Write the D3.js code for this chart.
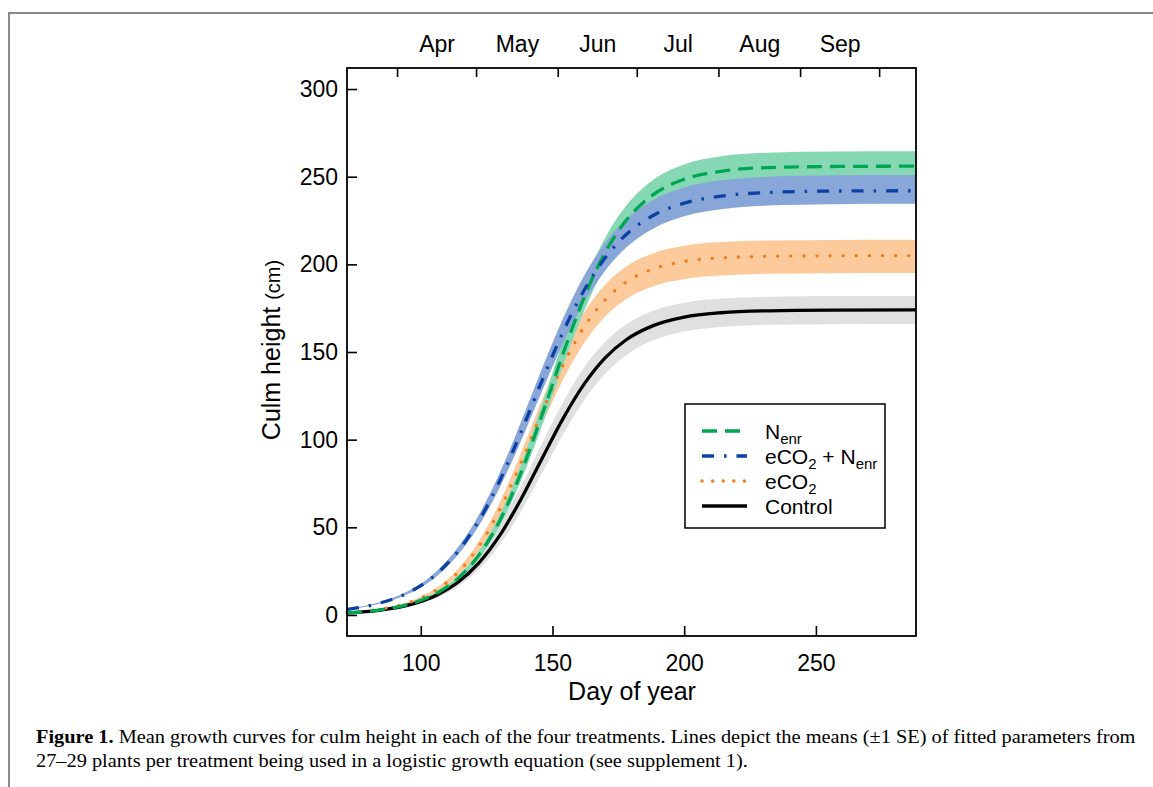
<!DOCTYPE html>
<html lang="en">
<head>
<meta charset="UTF-8">
<title>Culm height growth curves</title>
<script src="https://cdn.jsdelivr.net/npm/d3@7"></script>
<style>
  body { margin: 0; background: #fff; }
  svg text { font-family: "Liberation Sans", Arial, sans-serif; fill: #000; }
</style>
</head>
<body>
<svg width="1153" height="787"></svg>
<script>
var days = [72, 84, 96, 106, 114, 122, 130, 138, 146, 154, 162, 170, 178, 188, 200, 214, 232, 256, 288];

// Control (mean, -1 SE, +1 SE)
var control   = [1.18, 2.65, 5.88, 11.3, 18.5, 29.6, 45.4, 65.9, 89.1, 112.0, 131.7, 146.7, 157.0, 164.9, 169.9, 172.4, 173.5, 173.9, 174.0];
var controlLo = [1.02, 2.29, 5.09, 9.75, 16.1, 25.9, 40.2, 58.9, 80.8, 102.9, 122.5, 137.6, 148.2, 156.5, 161.7, 164.3, 165.5, 165.9, 166.0];
var controlHi = [1.37, 3.07, 6.79, 12.9, 21.2, 33.7, 51.2, 73.3, 97.8, 121.4, 141.1, 155.8, 165.8, 173.4, 178.1, 180.5, 181.5, 181.9, 182.0];

// eCO2
var eco2   = [1.37, 3.19, 7.33, 14.4, 24.1, 39.0, 60.1, 86.6, 115.6, 142.5, 164.2, 179.7, 189.9, 197.3, 201.6, 203.7, 204.6, 204.9, 205.0];
var eco2Lo = [1.26, 2.93, 6.73, 13.3, 22.2, 36.0, 55.7, 80.7, 108.3, 134.1, 155.1, 170.2, 180.2, 187.4, 191.7, 193.7, 194.6, 194.9, 195.0];
var eco2Hi = [1.48, 3.45, 7.91, 15.5, 26.0, 41.9, 64.3, 92.3, 122.5, 150.4, 172.6, 188.4, 198.8, 206.2, 210.6, 212.7, 213.6, 213.9, 214.0];

// Nenr
var nenr   = [1.24, 2.82, 6.35, 12.4, 20.7, 34.0, 53.8, 80.9, 113.9, 149.0, 181.1, 206.8, 225.1, 239.5, 248.5, 253.1, 255.2, 255.8, 256.0];
var nenrLo = [1.16, 2.63, 5.93, 11.6, 19.4, 31.9, 50.6, 76.4, 108.0, 142.0, 173.3, 198.6, 216.7, 231.0, 240.0, 244.6, 246.7, 247.3, 247.5];
var nenrHi = [1.33, 3.01, 6.78, 13.2, 22.1, 36.2, 57.1, 85.6, 119.9, 156.2, 189.0, 215.1, 233.5, 248.0, 257.0, 261.6, 263.7, 264.3, 264.5];

// eCO2 + Nenr
var both   = [3.22, 6.59, 13.3, 23.4, 36.0, 53.6, 76.6, 104.1, 133.5, 161.4, 185.2, 203.7, 217.0, 227.7, 234.9, 238.9, 241.0, 241.8, 242.0];
var bothLo = [3.03, 6.20, 12.5, 22.0, 34.0, 50.7, 72.7, 99.1, 127.6, 154.8, 178.2, 196.4, 209.6, 220.2, 227.4, 231.4, 233.5, 234.3, 234.5];
var bothHi = [3.44, 7.04, 14.2, 25.0, 38.3, 56.9, 81.1, 109.9, 140.4, 169.1, 193.5, 212.3, 225.8, 236.6, 243.9, 247.9, 250.0, 250.8, 251.0];

// axes
var monthStarts = [91, 121, 152, 182, 213, 244, 274];
var monthNames  = ["Apr", "May", "Jun", "Jul", "Aug", "Sep"];
var dayTicks    = [100, 150, 200, 250];
var heightTicks = [0, 50, 100, 150, 200, 250, 300];

var svg = d3.select("svg");

// page frame (grey rule top and left)
svg.append("line").attr("x1", 8).attr("y1", 13).attr("x2", 1153).attr("y2", 13)
  .attr("stroke", "#8a8a8a").attr("stroke-width", 2);
svg.append("line").attr("x1", 9).attr("y1", 12).attr("x2", 9).attr("y2", 787)
  .attr("stroke", "#8a8a8a").attr("stroke-width", 2);

var x = d3.scaleLinear().domain([72, 288]).range([347, 916]);
var y = d3.scaleLinear().domain([-12, 312]).range([636, 68]);

function rows(mean, lo, hi) {
  return days.map(function(d, i) { return {day: d, mean: mean[i], lo: lo[i], hi: hi[i]}; });
}

// drawing order: control, eCO2, Nenr, eCO2+Nenr
var series = [
  {key: "control", data: rows(control, controlLo, controlHi), line: "#000000", band: "#e0e0e0", dash: null, cap: "butt"},
  {key: "eco2",    data: rows(eco2, eco2Lo, eco2Hi),          line: "#f27c1c", band: "#fdcb9b", dash: "0.1,13", cap: "round"},
  {key: "nenr",    data: rows(nenr, nenrLo, nenrHi),          line: "#00a651", band: "#86d8b4", dash: "15,8", cap: "butt"},
  {key: "both",    data: rows(both, bothLo, bothHi),          line: "#0c40a3", band: "#88a7d8", dash: "12,10,2.5,10", cap: "butt"}
];

var area = d3.area()
  .x(function(d) { return x(d.day); })
  .y0(function(d) { return y(d.lo); })
  .y1(function(d) { return y(d.hi); })
  .curve(d3.curveMonotoneX);

var line = d3.line()
  .x(function(d) { return x(d.day); })
  .y(function(d) { return y(d.mean); })
  .curve(d3.curveMonotoneX);

svg.append("g").selectAll("path").data(series).enter().append("path")
  .attr("d", function(s) { return area(s.data); })
  .attr("fill", function(s) { return s.band; });

svg.append("g").selectAll("path").data(series).enter().append("path")
  .attr("d", function(s) { return line(s.data); })
  .attr("fill", "none")
  .attr("stroke", function(s) { return s.line; })
  .attr("stroke-width", 3.3)
  .attr("stroke-linecap", function(s) { return s.cap; })
  .attr("stroke-dasharray", function(s) { return s.dash; });

// axes, ticks pointing inwards
function styleAxis(g, size) {
  g.select(".domain").remove();
  g.selectAll(".tick line").attr("stroke", "#000").attr("stroke-width", 1.6);
  g.selectAll(".tick text").attr("font-size", size).attr("fill", "#000")
    .style("font-family", "'Liberation Sans', Arial, sans-serif");
}

svg.append("g").attr("transform", "translate(347,0)")
  .call(d3.axisLeft(y).tickValues(heightTicks).tickSize(-10).tickPadding(9))
  .call(styleAxis, 23);

svg.append("g").attr("transform", "translate(0,636)")
  .call(d3.axisBottom(x).tickValues(dayTicks).tickSize(-10).tickPadding(19))
  .call(styleAxis, 23);

svg.append("g").attr("transform", "translate(0,68)")
  .call(d3.axisTop(x).tickValues(monthStarts).tickSize(-9).tickFormat(""))
  .call(styleAxis, 23);

var monthMids = monthNames.map(function(m, i) { return (monthStarts[i] + monthStarts[i + 1]) / 2; });
svg.append("g").attr("transform", "translate(0,68)")
  .call(d3.axisTop(x).tickValues(monthMids).tickSize(0).tickPadding(16)
    .tickFormat(function(d, i) { return monthNames[i]; }))
  .call(styleAxis, 23);

// plot box
svg.append("rect").attr("x", 347).attr("y", 68).attr("width", 569).attr("height", 568)
  .attr("fill", "none").attr("stroke", "#000").attr("stroke-width", 1.8);

// axis titles
svg.append("text").attr("x", 632).attr("y", 700).attr("text-anchor", "middle")
  .attr("font-size", 25).text("Day of year");

var yt = svg.append("text").attr("transform", "translate(280,350) rotate(-90)")
  .attr("text-anchor", "middle");
yt.append("tspan").attr("font-size", 25).text("Culm height ");
yt.append("tspan").attr("font-size", 20).text("(cm)");

// legend
var legendItems = [
  {s: series[2], parts: [["N", 0], ["enr", 1]]},
  {s: series[3], parts: [["eCO", 0], ["2", 1], [" + N", 0], ["enr", 1]]},
  {s: series[1], parts: [["eCO", 0], ["2", 1]]},
  {s: series[0], parts: [["Control", 0]]}
];

svg.append("rect").attr("x", 685).attr("y", 404).attr("width", 200).attr("height", 124)
  .attr("fill", "#fff").attr("stroke", "#000").attr("stroke-width", 1.5);

var lg = svg.append("g").selectAll("g").data(legendItems).enter().append("g")
  .attr("transform", function(d, i) { return "translate(0," + (431 + i * 25) + ")"; });

lg.append("line").attr("x1", 702).attr("x2", 747).attr("y1", 0).attr("y2", 0)
  .attr("stroke", function(d) { return d.s.line; })
  .attr("stroke-width", 3.3)
  .attr("stroke-linecap", function(d) { return d.s.cap; })
  .attr("stroke-dasharray", function(d) { return d.s.key === "eco2" ? "0.1,10.5" : d.s.dash; });

lg.append("text").attr("x", 765).attr("y", 8).each(function(d) {
  var t = d3.select(this), prevSub = 0;
  d.parts.forEach(function(p) {
    var dy = p[1] ? 5 : (prevSub ? -5 : 0);
    t.append("tspan").attr("dy", dy).attr("font-size", p[1] ? 15 : 21).text(p[0]);
    prevSub = p[1];
  });
});

// caption
var cap = svg.append("g");
var c1 = cap.append("text").attr("x", 0).attr("y", 743).attr("font-size", 19.5)
  .style("font-family", "'Liberation Serif', 'Times New Roman', serif");
c1.append("tspan").attr("font-weight", "bold").text("Figure 1.");
c1.append("tspan").text(" Mean growth curves for culm height in each of the four treatments. Lines depict the means (\u00b11 SE) of fitted parameters from");
var c2 = cap.append("text").attr("x", 0).attr("y", 767).attr("font-size", 19.5)
  .style("font-family", "'Liberation Serif', 'Times New Roman', serif")
  .text("27\u201329 plants per treatment being used in a logistic growth equation (see supplement 1).");

var k = 1100 / c1.node().getComputedTextLength();
c1.attr("transform", "translate(36,0) scale(" + k + ",1)");
c2.attr("transform", "translate(36,0) scale(" + k + ",1)");
</script>
</body>
</html>
